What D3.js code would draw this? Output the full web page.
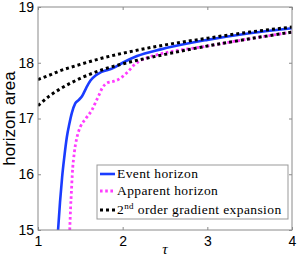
<!DOCTYPE html>
<html>
<head>
<meta charset="utf-8">
<script src="https://cdn.jsdelivr.net/npm/d3@7"></script>
<style>
  body { margin: 0; background: #fff; }
  svg { display: block; }
</style>
</head>
<body>
<div class="chart"></div>
<script>
// values
const eventTau = [1.237, 1.26, 1.285, 1.31, 1.34, 1.37, 1.40, 1.44, 1.48, 1.52, 1.57, 1.62, 1.68, 1.73, 1.80, 1.88, 2.0, 2.17, 2.45, 3.0, 3.5, 4.0];
const eventArea = [15.0, 15.5, 15.95, 16.3, 16.66, 16.9, 17.1, 17.27, 17.33, 17.40, 17.55, 17.68, 17.77, 17.82, 17.86, 17.90, 18.0, 18.12, 18.24, 18.41, 18.53, 18.62];

const apparentTau = [1.375, 1.385, 1.395, 1.405, 1.43, 1.46, 1.50, 1.55, 1.59, 1.64, 1.68, 1.72, 1.76, 1.82, 1.90, 1.95, 2.05, 2.15, 2.29, 2.45, 3.0, 3.5, 4.0];
const apparentArea = [15.0, 15.4, 15.7, 16.0, 16.4, 16.66, 16.85, 16.97, 17.05, 17.16, 17.29, 17.42, 17.55, 17.64, 17.67, 17.70, 17.82, 17.98, 18.09, 18.16, 18.30, 18.43, 18.55];

const gradTau = [1.0, 1.14, 1.25, 1.5, 1.75, 2.0, 2.5, 3.0, 3.5, 4.0];
const gradUpper = [17.70, 17.78, 17.85, 17.97, 18.08, 18.17, 18.32, 18.44, 18.55, 18.64];
const gradLower = [17.23, 17.41, 17.52, 17.72, 17.87, 17.98, 18.15, 18.30, 18.43, 18.55];

const xTicks = [1, 2, 3, 4];
const yTicks = [15, 16, 17, 18, 19];

const legendLabels = ["Event horizon", "Apparent horizon", "2nd order gradient expansion"];

const W = 297, H = 262;
const margin = { top: 7, right: 5, bottom: 32, left: 38 };

const svg = d3.select(".chart").append("svg")
  .attr("width", W)
  .attr("height", H);

const x = d3.scaleLinear().domain([1, 4]).range([margin.left, W - margin.right]);
const y = d3.scaleLinear().domain([15, 19]).range([H - margin.bottom, margin.top]);

svg.append("defs").append("clipPath").attr("id", "clip")
  .append("rect")
  .attr("x", x(1)).attr("y", y(19))
  .attr("width", x(4) - x(1)).attr("height", y(15) - y(19));

const zip = (a, b) => a.map((v, i) => [v, b[i]]);
const line = d3.line()
  .x(d => x(d[0]))
  .y(d => y(d[1]))
  .curve(d3.curveMonotoneX);

const plot = svg.append("g").attr("clip-path", "url(#clip)");

plot.append("path")
  .attr("d", line(zip(eventTau, eventArea)))
  .attr("fill", "none")
  .attr("stroke", "#1a3cff")
  .attr("stroke-width", 2.6);

plot.append("path")
  .attr("d", line(zip(apparentTau, apparentArea)))
  .attr("fill", "none")
  .attr("stroke", "#ff3cff")
  .attr("stroke-width", 2.8)
  .attr("stroke-dasharray", "2.6,2.6");

[gradUpper, gradLower].forEach(vals => {
  plot.append("path")
    .attr("d", line(zip(gradTau, vals)))
    .attr("fill", "none")
    .attr("stroke", "#000")
    .attr("stroke-width", 3)
    .attr("stroke-dasharray", "3,3");
});

// box frame with inward ticks (all four sides)
const frame = "#8a8a8a";
svg.append("rect")
  .attr("x", x(1)).attr("y", y(19))
  .attr("width", x(4) - x(1)).attr("height", y(15) - y(19))
  .attr("fill", "none")
  .attr("stroke", frame)
  .attr("stroke-width", 1);

svg.append("g")
  .attr("transform", `translate(0,${y(15)})`)
  .call(d3.axisBottom(x).tickValues(xTicks).tickSize(-3).tickPadding(6).tickFormat(d3.format("d")))
  .call(g => g.select(".domain").remove())
  .call(g => g.selectAll("line").attr("stroke", frame))
  .call(g => g.selectAll("text").attr("fill", "#000")
    .style("font", "14px 'Liberation Sans', Arial, sans-serif"));

svg.append("g")
  .attr("transform", `translate(0,${y(19)})`)
  .call(d3.axisTop(x).tickValues(xTicks).tickSize(-3).tickFormat(""))
  .call(g => g.select(".domain").remove())
  .call(g => g.selectAll("line").attr("stroke", frame));

svg.append("g")
  .attr("transform", `translate(${x(1)},0)`)
  .call(d3.axisLeft(y).tickValues(yTicks).tickSize(-3).tickPadding(4).tickFormat(d3.format("d")))
  .call(g => g.select(".domain").remove())
  .call(g => g.selectAll("line").attr("stroke", frame))
  .call(g => g.selectAll("text").attr("fill", "#000")
    .style("font", "14px 'Liberation Sans', Arial, sans-serif"));

svg.append("g")
  .attr("transform", `translate(${x(4)},0)`)
  .call(d3.axisRight(y).tickValues(yTicks).tickSize(-3).tickFormat(""))
  .call(g => g.select(".domain").remove())
  .call(g => g.selectAll("line").attr("stroke", frame));

// axis titles
svg.append("text")
  .attr("transform", `translate(15,${(y(15) + y(19)) / 2}) rotate(-90)`)
  .attr("text-anchor", "middle")
  .style("font", "17px 'Liberation Sans', Arial, sans-serif")
  .text("horizon area");

svg.append("text")
  .attr("x", (x(1) + x(4)) / 2)
  .attr("y", 254)
  .attr("text-anchor", "middle")
  .style("font", "italic 15px 'Liberation Serif', 'DejaVu Serif', serif")
  .text("τ");

// legend
const lg = svg.append("g").attr("transform", "translate(97,165)");
lg.append("rect")
  .attr("width", 191).attr("height", 54)
  .attr("fill", "#fff")
  .attr("stroke", "#999")
  .attr("stroke-width", 1);

const legendStyles = [
  { stroke: "#1a3cff", width: 2.6, dash: null },
  { stroke: "#ff3cff", width: 2.8, dash: "2.6,2.6" },
  { stroke: "#000", width: 3, dash: "3,3" }
];
const rowY = [9, 26, 45];

legendLabels.forEach((label, i) => {
  const s = legendStyles[i];
  lg.append("line")
    .attr("x1", 3).attr("x2", 18)
    .attr("y1", rowY[i]).attr("y2", rowY[i])
    .attr("stroke", s.stroke)
    .attr("stroke-width", s.width)
    .attr("stroke-dasharray", s.dash);
  const t = lg.append("text")
    .attr("x", 20)
    .attr("y", rowY[i] + 4)
    .style("font", "13.5px 'Liberation Serif', 'DejaVu Serif', serif")
    .style("letter-spacing", "0.4px");
  if (i === 2) {
    t.append("tspan").text("2");
    t.append("tspan").attr("dy", -5).style("font-size", "9px").text("nd");
    t.append("tspan").attr("dy", 5).text(" order gradient expansion");
  } else {
    t.text(label);
  }
});
</script>
</body>
</html>
